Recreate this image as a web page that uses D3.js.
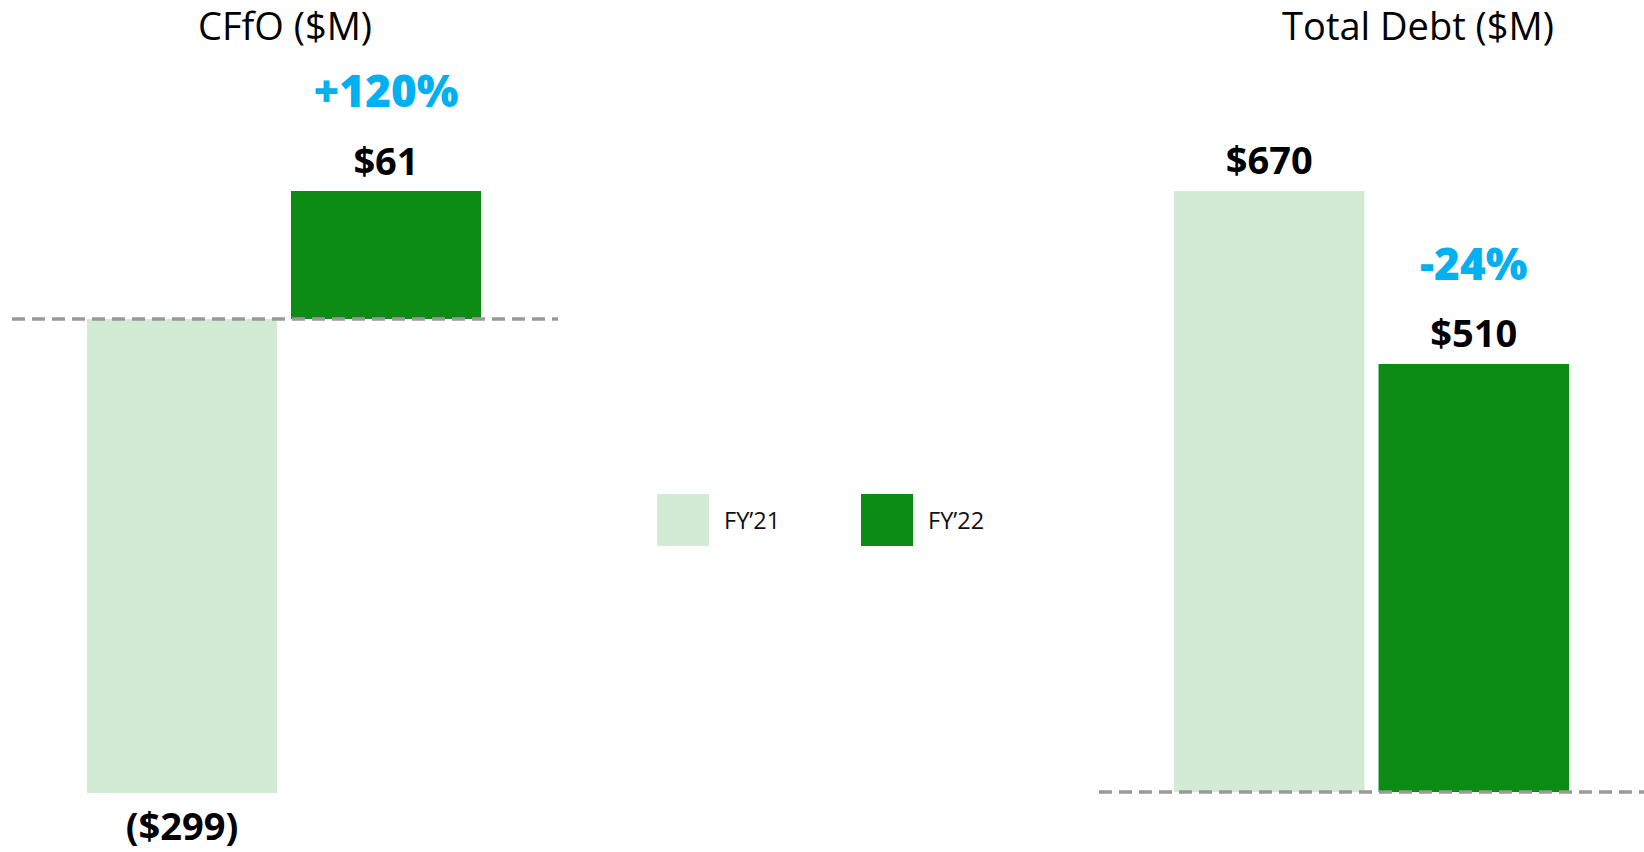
<!DOCTYPE html>
<html>
<head>
<meta charset="utf-8">
<script src="https://cdn.jsdelivr.net/npm/d3@7"></script>
<style>
  body { margin: 0; background: #fff; }
  svg { display: block; font-family: "Open Sans", "Noto Sans", sans-serif; }
</style>
</head>
<body>
<div id="chart"></div>
<script>
// data
const years = ["FY\u201921", "FY\u201922"];
const cfoValues = [-299, 61];
const cfoLabels = ["($299)", "$61"];
const cfoChange = "+120%";
const debtValues = [670, 510];
const debtLabels = ["$670", "$510"];
const debtChange = "-24%";
const debtAxisMin = [114];   // value axis of the debt chart does not start at 0

const colors = ["#d3ead5", "#0c8c15"];

const width = 1644;
const height = 852;

const svg = d3.select("#chart")
    .append("svg")
    .attr("width", width)
    .attr("height", height);

function dashedLine(x1, x2, y) {
    svg.append("line")
        .attr("x1", x1)
        .attr("x2", x2)
        .attr("y1", y)
        .attr("y2", y)
        .attr("stroke", "#999999")
        .attr("stroke-width", 3.3)
        .attr("stroke-dasharray", "13,7");
}

function drawGroup(opts) {
    const x = d3.scaleBand()
        .domain(years)
        .range(opts.xRange)
        .paddingInner(0.0686);

    const y = opts.y;
    const zero = y(opts.base);

    svg.append("text")
        .attr("x", opts.titleX)
        .attr("y", 40)
        .attr("text-anchor", "middle")
        .style("font-size", "38px")
        .style("fill", "#000")
        .text(opts.title);

    svg.selectAll(".bar-" + opts.key)
        .data(opts.values)
        .enter().append("rect")
        .attr("class", "bar-" + opts.key)
        .attr("x", (d, i) => x(years[i]))
        .attr("y", d => Math.min(y(d), zero))
        .attr("width", x.bandwidth())
        .attr("height", d => Math.abs(y(d) - zero))
        .attr("fill", (d, i) => colors[i]);

    dashedLine(opts.lineRange[0], opts.lineRange[1], zero);

    svg.selectAll(".lbl-" + opts.key)
        .data(opts.values)
        .enter().append("text")
        .attr("class", "lbl-" + opts.key)
        .attr("x", (d, i) => x(years[i]) + x.bandwidth() / 2)
        .attr("y", d => d < 0 ? y(d) + 47 : y(d) - (opts.labelGap || 16))
        .attr("text-anchor", "middle")
        .style("font-size", "38px")
        .style("font-weight", "bold")
        .style("fill", "#000")
        .text((d, i) => opts.labels[i]);

    const last = opts.values.length - 1;
    svg.append("text")
        .attr("x", x(years[last]) + x.bandwidth() / 2)
        .attr("y", y(opts.values[last]) - opts.changeGap)
        .attr("text-anchor", "middle")
        .style("font-size", "44px")
        .style("font-weight", "800")
        .style("fill", "#00b0f0")
        .text(opts.change);
}

// CFfO: the zero line sits low in the plot, negative side is compressed
const yCfo = d3.scaleLinear()
    .domain([d3.min(cfoValues), 0, d3.max(cfoValues)])
    .range([793, 319, 191]);

drawGroup({
    key: "cfo",
    title: "CFfO ($M)",
    titleX: 285,
    xRange: [87, 481],
    lineRange: [12, 558],
    y: yCfo,
    base: 0,
    values: cfoValues,
    labels: cfoLabels,
    change: cfoChange,
    changeGap: 84
});

const yDebt = d3.scaleLinear()
    .domain([debtAxisMin[0], d3.max(debtValues)])
    .range([792, 191]);

drawGroup({
    key: "debt",
    title: "Total Debt ($M)",
    titleX: 1418,
    xRange: [1174, 1569],
    lineRange: [1099, 1644],
    y: yDebt,
    base: debtAxisMin[0],
    values: debtValues,
    labels: debtLabels,
    change: debtChange,
    changeGap: 84,
    labelGap: 17
});

// legend
const legend = svg.append("g")
    .attr("transform", "translate(657,494)");

const items = legend.selectAll(".legend-item")
    .data(years)
    .enter().append("g")
    .attr("class", "legend-item")
    .attr("transform", (d, i) => "translate(" + (i * 204) + ",0)");

items.append("rect")
    .attr("width", 52)
    .attr("height", 52)
    .attr("fill", (d, i) => colors[i]);

items.append("text")
    .attr("x", 67)
    .attr("y", 35)
    .style("font-size", "23.5px")
    .style("fill", "#111")
    .text(d => d);
</script>
</body>
</html>
